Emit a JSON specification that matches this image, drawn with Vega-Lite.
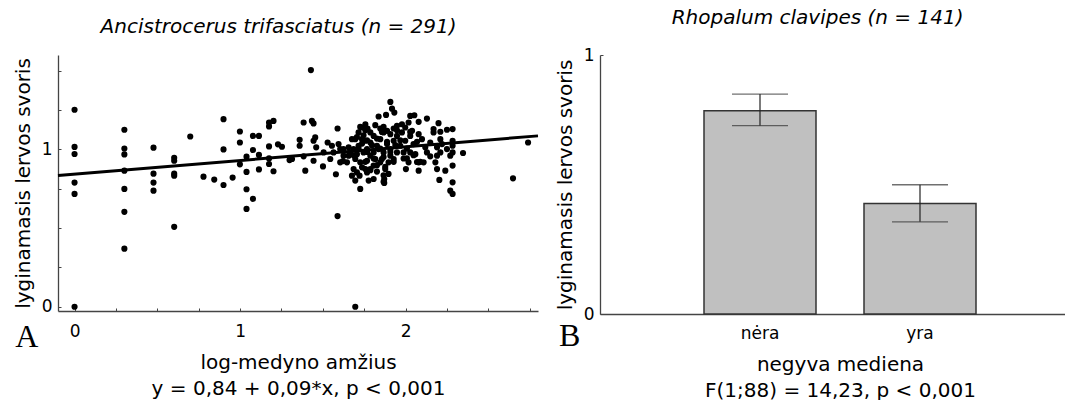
{
  "$schema": "https://vega.github.io/schema/vega-lite/v6.json",
  "background": "white",
  "padding": {"left": 13, "top": 8, "right": 0, "bottom": 0},
  "spacing": 11,
  "config": {
    "font": "DejaVu Sans",
    "view": {"stroke": null},
    "axis": {"domainColor": "#444", "domainWidth": 1.3, "tickColor": "#444", "tickWidth": 1, "labelFont": "DejaVu Sans", "labelFontSize": 17, "labelColor": "black", "titleFont": "DejaVu Sans", "titleFontSize": 20, "titleFontWeight": "normal", "titleColor": "black", "grid": false, "labelFlush": false},
    "title": {"font": "DejaVu Sans", "fontSize": 20, "fontStyle": "italic", "fontWeight": "normal", "color": "black", "baseline": "alphabetic", "offset": 18, "frame": "bounds", "anchor": "middle"}
  },
  "datasets": {
    "scatter": [
      {"x": 0, "y": 1.252}, {"x": 0, "y": 1.016}, {"x": 0, "y": 0.971}, {"x": 0, "y": 0.789}, {"x": 0, "y": 0.717}, {"x": 0, "y": 0.0},
      {"x": 0.301, "y": 1.125}, {"x": 0.301, "y": 1.006}, {"x": 0.301, "y": 0.968}, {"x": 0.301, "y": 0.865}, {"x": 0.301, "y": 0.749}, {"x": 0.301, "y": 0.603}, {"x": 0.301, "y": 0.369},
      {"x": 0.477, "y": 1.011}, {"x": 0.477, "y": 0.846}, {"x": 0.477, "y": 0.789}, {"x": 0.477, "y": 0.738},
      {"x": 0.602, "y": 0.947}, {"x": 0.602, "y": 0.928}, {"x": 0.602, "y": 0.846}, {"x": 0.602, "y": 0.833}, {"x": 0.602, "y": 0.508},
      {"x": 0.699, "y": 1.082},
      {"x": 0.779, "y": 0.827}, {"x": 0.844, "y": 0.808}, {"x": 0.9, "y": 1.192}, {"x": 0.9, "y": 1.0}, {"x": 0.9, "y": 0.774}, {"x": 0.955, "y": 0.821},
      {"x": 0.999, "y": 1.114}, {"x": 0.999, "y": 1.044}, {"x": 0.999, "y": 0.905},
      {"x": 1.039, "y": 0.954}, {"x": 1.039, "y": 0.857}, {"x": 1.039, "y": 0.747}, {"x": 1.039, "y": 0.622},
      {"x": 1.078, "y": 1.086}, {"x": 1.078, "y": 0.996}, {"x": 1.078, "y": 0.686},
      {"x": 1.114, "y": 1.086}, {"x": 1.114, "y": 0.965}, {"x": 1.114, "y": 0.873},
      {"x": 1.175, "y": 1.171}, {"x": 1.202, "y": 1.181}, {"x": 1.175, "y": 1.146}, {"x": 1.175, "y": 1.019}, {"x": 1.175, "y": 0.943}, {"x": 1.175, "y": 0.907}, {"x": 1.202, "y": 0.861},
      {"x": 1.229, "y": 1.032}, {"x": 1.253, "y": 1.017}, {"x": 1.299, "y": 0.932}, {"x": 1.36, "y": 1.061}, {"x": 1.36, "y": 1.023},
      {"x": 1.428, "y": 1.504}, {"x": 1.384, "y": 1.171}, {"x": 1.434, "y": 1.181}, {"x": 1.444, "y": 1.165}, {"x": 1.454, "y": 1.076}, {"x": 1.444, "y": 1.055}, {"x": 1.46, "y": 1.013}, {"x": 1.444, "y": 0.928}, {"x": 1.394, "y": 0.865}, {"x": 1.314, "y": 0.939}, {"x": 1.384, "y": 0.956},
      {"x": 1.501, "y": 0.892}, {"x": 1.529, "y": 1.044}, {"x": 1.579, "y": 0.842}, {"x": 1.589, "y": 1.133}, {"x": 1.589, "y": 0.576}, {"x": 1.696, "y": 0.0},
      {"x": 1.595, "y": 1.034}, {"x": 1.605, "y": 1.002}, {"x": 1.565, "y": 0.981}, {"x": 1.625, "y": 0.96}, {"x": 1.622, "y": 0.926}, {"x": 1.656, "y": 1.013}, {"x": 1.676, "y": 1.065}, {"x": 1.676, "y": 0.833}, {"x": 1.696, "y": 0.802}, {"x": 1.726, "y": 0.749}, {"x": 1.722, "y": 0.833},
      {"x": 1.737, "y": 1.139}, {"x": 1.757, "y": 1.16}, {"x": 1.77, "y": 1.133}, {"x": 1.787, "y": 1.108}, {"x": 1.837, "y": 1.209}, {"x": 1.882, "y": 1.219}, {"x": 1.908, "y": 1.302}, {"x": 1.918, "y": 1.259}, {"x": 1.932, "y": 1.234},
      {"x": 1.847, "y": 1.133}, {"x": 1.888, "y": 1.118}, {"x": 1.928, "y": 1.133}, {"x": 1.978, "y": 1.16}, {"x": 2.018, "y": 1.171}, {"x": 2.028, "y": 1.213}, {"x": 2.053, "y": 1.217}, {"x": 2.079, "y": 1.175}, {"x": 2.129, "y": 1.196}, {"x": 2.169, "y": 1.129}, {"x": 2.199, "y": 1.167}, {"x": 2.21, "y": 1.112}, {"x": 2.25, "y": 1.125},
      {"x": 2.284, "y": 1.129}, {"x": 2.284, "y": 1.055}, {"x": 2.284, "y": 1.023}, {"x": 2.284, "y": 0.981}, {"x": 2.284, "y": 0.897}, {"x": 2.284, "y": 0.791}, {"x": 2.284, "y": 0.717}, {"x": 2.27, "y": 0.96}, {"x": 2.27, "y": 0.738},
      {"x": 2.347, "y": 0.977}, {"x": 2.649, "y": 0.816}, {"x": 2.74, "y": 1.044},
      {"x": 2.204, "y": 0.806}, {"x": 2.24, "y": 0.865}, {"x": 2.19, "y": 0.875}, {"x": 2.18, "y": 0.918}, {"x": 2.19, "y": 0.96}, {"x": 2.22, "y": 1.034}, {"x": 2.149, "y": 0.956}, {"x": 2.119, "y": 1.013}, {"x": 2.099, "y": 1.065}, {"x": 2.079, "y": 0.918}, {"x": 2.079, "y": 0.865}, {"x": 2.069, "y": 0.92}, {"x": 2.048, "y": 1.034}, {"x": 2.028, "y": 1.086}, {"x": 2.002, "y": 0.875}, {"x": 2.008, "y": 0.943},
      {"x": 1.978, "y": 1.108}, {"x": 1.968, "y": 1.023}, {"x": 1.948, "y": 0.981}, {"x": 1.928, "y": 1.055}, {"x": 1.908, "y": 1.002}, {"x": 1.897, "y": 0.918}, {"x": 1.897, "y": 0.844}, {"x": 1.877, "y": 0.875}, {"x": 1.871, "y": 0.812}, {"x": 1.871, "y": 0.787}, {"x": 1.827, "y": 0.859}, {"x": 1.847, "y": 0.918}, {"x": 1.807, "y": 0.897}, {"x": 1.757, "y": 0.875}, {"x": 1.767, "y": 0.928}, {"x": 1.726, "y": 0.918}, {"x": 1.706, "y": 0.97}, {"x": 1.686, "y": 1.002}, {"x": 1.716, "y": 1.023}, {"x": 1.737, "y": 1.065}, {"x": 1.767, "y": 1.002}, {"x": 1.787, "y": 1.044}, {"x": 1.807, "y": 0.981}, {"x": 1.827, "y": 1.023}, {"x": 1.847, "y": 1.065}, {"x": 1.867, "y": 0.981}, {"x": 1.888, "y": 1.034}, {"x": 1.908, "y": 0.96}, {"x": 1.928, "y": 0.939}, {"x": 1.948, "y": 1.086}, {"x": 1.787, "y": 0.96}, {"x": 1.746, "y": 0.981}, {"x": 1.817, "y": 0.939}, {"x": 1.837, "y": 1.002}, {"x": 1.857, "y": 0.939},
      {"x": 1.988, "y": 0.981}, {"x": 1.998, "y": 1.055}, {"x": 2.028, "y": 0.981}, {"x": 2.039, "y": 1.118}, {"x": 2.059, "y": 0.97}, {"x": 2.018, "y": 0.918}, {"x": 2.129, "y": 0.981}, {"x": 2.149, "y": 1.044}, {"x": 2.19, "y": 1.013}, {"x": 2.21, "y": 0.981}, {"x": 2.25, "y": 1.002}, {"x": 2.169, "y": 1.108},
      {"x": 1.555, "y": 1.023}, {"x": 1.505, "y": 0.981}, {"x": 1.545, "y": 0.939}, {"x": 1.605, "y": 0.918}, {"x": 1.646, "y": 0.918}, {"x": 1.656, "y": 0.96}, {"x": 1.696, "y": 0.939}, {"x": 1.686, "y": 0.875}, {"x": 1.706, "y": 0.854}, {"x": 1.767, "y": 0.854}, {"x": 1.787, "y": 0.875}, {"x": 1.807, "y": 0.812}, {"x": 1.777, "y": 0.802}, {"x": 1.737, "y": 0.886}, {"x": 1.666, "y": 0.981}, {"x": 1.625, "y": 1.002},
      {"x": 1.716, "y": 1.108}, {"x": 1.696, "y": 1.065}, {"x": 1.757, "y": 1.055}, {"x": 1.807, "y": 1.086}, {"x": 1.867, "y": 1.108}, {"x": 1.908, "y": 1.097}, {"x": 1.948, "y": 1.15}, {"x": 1.998, "y": 1.139}, {"x": 2.079, "y": 1.097}, {"x": 2.21, "y": 1.065}, {"x": 2.109, "y": 0.918},
      {"x": 1.726, "y": 1.143}, {"x": 1.757, "y": 1.122}, {"x": 1.706, "y": 1.079}, {"x": 1.737, "y": 1.037}, {"x": 1.767, "y": 1.058}, {"x": 1.797, "y": 1.027}, {"x": 1.827, "y": 1.069}, {"x": 1.857, "y": 1.111}, {"x": 1.888, "y": 1.048}, {"x": 1.847, "y": 1.005}, {"x": 1.767, "y": 0.984}, {"x": 1.716, "y": 1.005}, {"x": 1.686, "y": 0.963}, {"x": 1.807, "y": 0.942}, {"x": 1.867, "y": 0.952}, {"x": 1.908, "y": 0.984}, {"x": 1.938, "y": 1.027}, {"x": 1.968, "y": 1.058}, {"x": 2.008, "y": 1.005}, {"x": 1.988, "y": 0.942}, {"x": 1.928, "y": 0.921}, {"x": 1.877, "y": 0.889}, {"x": 1.827, "y": 0.9}, {"x": 1.757, "y": 0.921}, {"x": 1.746, "y": 1.09}, {"x": 1.817, "y": 1.154}, {"x": 1.867, "y": 1.143}, {"x": 1.948, "y": 1.122}, {"x": 2.028, "y": 1.111}, {"x": 2.069, "y": 1.048}, {"x": 2.048, "y": 0.963}, {"x": 2.089, "y": 0.921}, {"x": 1.787, "y": 0.868}, {"x": 1.867, "y": 0.836}, {"x": 1.867, "y": 0.794}
    ],
    "fit": [{"x": -0.1, "y": 0.834}, {"x": 2.8, "y": 1.086}],
    "bars": [
      {"group": "nėra", "mean": 0.785, "lo": 0.727, "hi": 0.849},
      {"group": "yra", "mean": 0.427, "lo": 0.356, "hi": 0.499}
    ],
    "panelA": [{"label": "A"}],
    "panelB": [{"label": "B"}]
  },
  "hconcat": [
    {
      "width": 480,
      "height": 256,
      "title": "Ancistrocerus trifasciatus (n = 291)",
      "layer": [
        {
          "data": {"name": "scatter"},
          "mark": {"type": "circle", "size": 38, "color": "black", "opacity": 1},
          "encoding": {
            "x": {"field": "x", "type": "quantitative",
              "scale": {"domain": [-0.1, 2.8], "nice": false, "zero": false},
              "axis": {"title": ["log-medyno amžius", "y = 0,84 + 0,09*x, p < 0,001"], "titleLineHeight": 26,
                "values": [0, 0.25, 0.5, 0.75, 1, 1.25, 1.5, 1.75, 2, 2.25, 2.5, 2.75],
                "labelExpr": "datum.value % 1 === 0 ? format(datum.value, 'd') : ''",
                "tickSize": -3, "labelPadding": 15, "titlePadding": 13}},
            "y": {"field": "y", "type": "quantitative",
              "scale": {"domain": [-0.027, 1.6], "nice": false, "zero": false},
              "axis": {"title": "lyginamasis lervos svoris",
                "values": [0, 0.25, 0.5, 0.75, 1, 1.25, 1.5],
                "labelExpr": "datum.value % 1 === 0 ? format(datum.value, 'd') : ''",
                "tickSize": -3, "labelPadding": 9, "titlePadding": 8}}
          }
        },
        {
          "data": {"name": "fit"},
          "mark": {"type": "line", "color": "black", "strokeWidth": 3},
          "encoding": {
            "x": {"field": "x", "type": "quantitative"},
            "y": {"field": "y", "type": "quantitative"}
          }
        },
        {
          "data": {"name": "panelA"},
          "mark": {"type": "text", "font": "Liberation Serif", "fontSize": 32, "align": "center", "baseline": "alphabetic", "color": "black"},
          "encoding": {
            "text": {"field": "label"},
            "x": {"datum": -0.288, "type": "quantitative"},
            "y": {"datum": -0.254, "type": "quantitative"}
          }
        }
      ]
    },
    {
      "width": 480,
      "height": 259,
      "title": "Rhopalum clavipes (n = 141)",
      "layer": [
        {
          "layer": [
            {
              "data": {"name": "bars"},
              "mark": {"type": "bar", "color": "#c0c0c0", "stroke": "#333", "strokeWidth": 1.5},
              "encoding": {
                "x": {"field": "group", "type": "nominal", "sort": null,
                  "scale": {"paddingInner": 0.3, "paddingOuter": 0.65},
                  "axis": {"title": ["negyva mediena", "F(1;88) = 14,23, p < 0,001"], "titleLineHeight": 26, "labelAngle": 0, "tickSize": -4, "labelPadding": 15, "titlePadding": 13}},
                "y": {"field": "mean", "type": "quantitative",
                  "scale": {"domain": [0, 1], "nice": false, "zero": false},
                  "axis": {"title": "lyginamasis lervos svoris", "values": [0, 1], "format": "d", "tickSize": -3, "labelPadding": 9, "titlePadding": 8}}
              }
            },
            {
              "data": {"name": "bars"},
              "mark": {"type": "rule", "color": "#222", "strokeWidth": 1.2},
              "encoding": {
                "x": {"field": "group", "type": "nominal", "sort": null},
                "y": {"field": "lo", "type": "quantitative"},
                "y2": {"field": "hi"}
              }
            },
            {
              "data": {"name": "bars"},
              "mark": {"type": "tick", "color": "#333", "thickness": 1.3, "size": 56},
              "encoding": {
                "x": {"field": "group", "type": "nominal", "sort": null},
                "y": {"field": "lo", "type": "quantitative"}
              }
            },
            {
              "data": {"name": "bars"},
              "mark": {"type": "tick", "color": "#333", "thickness": 1.3, "size": 56},
              "encoding": {
                "x": {"field": "group", "type": "nominal", "sort": null},
                "y": {"field": "hi", "type": "quantitative"}
              }
            }
          ]
        },
        {
          "data": {"name": "panelB"},
          "mark": {"type": "text", "font": "Liberation Serif", "fontSize": 32, "align": "center", "baseline": "alphabetic", "color": "black"},
          "encoding": {
            "text": {"field": "label"},
            "x": {"datum": -0.063, "type": "quantitative", "scale": {"domain": [0, 1], "nice": false, "zero": false}, "axis": null},
            "y": {"datum": -0.125, "type": "quantitative"}
          }
        }
      ],
      "resolve": {"scale": {"x": "independent"}}
    }
  ]
}
